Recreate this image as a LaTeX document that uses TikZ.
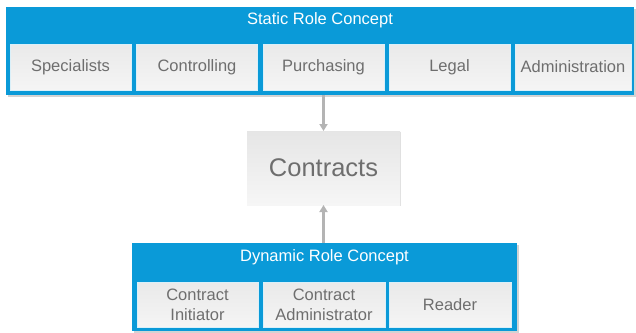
\documentclass[tikz,border=0pt]{standalone}
\usepackage{fontspec}
\setmainfont{Liberation Sans}
\usetikzlibrary{arrows.meta,shadows}
\definecolor{roleblue}{HTML}{0A9AD8}
\definecolor{boxtext}{HTML}{6E6E6E}
\definecolor{arrowgray}{HTML}{B4B4B4}

\begin{document}
\begin{tikzpicture}[x=1pt, y=-1pt]
	\tikzstyle{every node} = [inner sep=0pt, outer sep=0pt]
	\tikzstyle{container} = [fill=roleblue, minimum height=88pt, drop shadow={opacity=0.35, shadow xshift=1.5pt, shadow yshift=-1.5pt}]
	\tikzstyle{title} = [text=white, font=\fontsize{16.5}{20}\selectfont]
	\tikzstyle{role} = [top color=gray!17, bottom color=gray!8, draw=white!85!roleblue, line width=0.6pt, text=boxtext, align=center, minimum width=121pt, font=\fontsize{16.5}{20}\selectfont]
	\tikzstyle{link} = [draw=arrowgray, line width=2.2pt, -{Triangle[width=8pt,length=7pt]}]
	\useasboundingbox (0,0) rectangle (636,332);
	% static roles
	\node [container, minimum width=628pt] (static) at (320,51) {};
	\node [title] (statictitle) at (320,20) {Static Role Concept};
	\node [role, minimum height=46pt] (specialists) at (70.5,67) {Specialists};
	\node [role, minimum height=46pt] (controlling) at (197,67) {Controlling};
	\node [role, minimum height=46pt] (purchasing) at (323.5,67) {Purchasing};
	\node [role, minimum height=46pt] (legal) at (449.5,67) {Legal};
	\node [role, minimum height=46pt, minimum width=116pt] (administration) at (573,67) {Administration};
	% contracts
	\node [top color=gray!20, bottom color=gray!7, minimum width=153pt, minimum height=74pt, text=boxtext, font=\fontsize{25.5}{30}\selectfont, drop shadow={opacity=0.25, shadow xshift=1pt, shadow yshift=-1pt}] (contracts) at (323.5,168) {Contracts};
	% dynamic roles
	\node [container, minimum width=385pt] (dynamic) at (324.5,287) {};
	\node [title] (dynamictitle) at (324.5,257) {Dynamic Role Concept};
	\node [role, minimum height=45pt] (initiator) at (197.5,304.5) {Contract\\Initiator};
	\node [role, minimum height=45pt, minimum width=122pt] (administrator) at (324,304.5) {Contract\\Administrator};
	\node [role, minimum height=45pt, minimum width=122pt] (reader) at (450,304.5) {Reader};
	\draw [link] (contracts.north |- static.south)--(contracts.north);
	\draw [link] (contracts.south |- dynamic.north)--(contracts.south);
\end{tikzpicture}
\end{document}
